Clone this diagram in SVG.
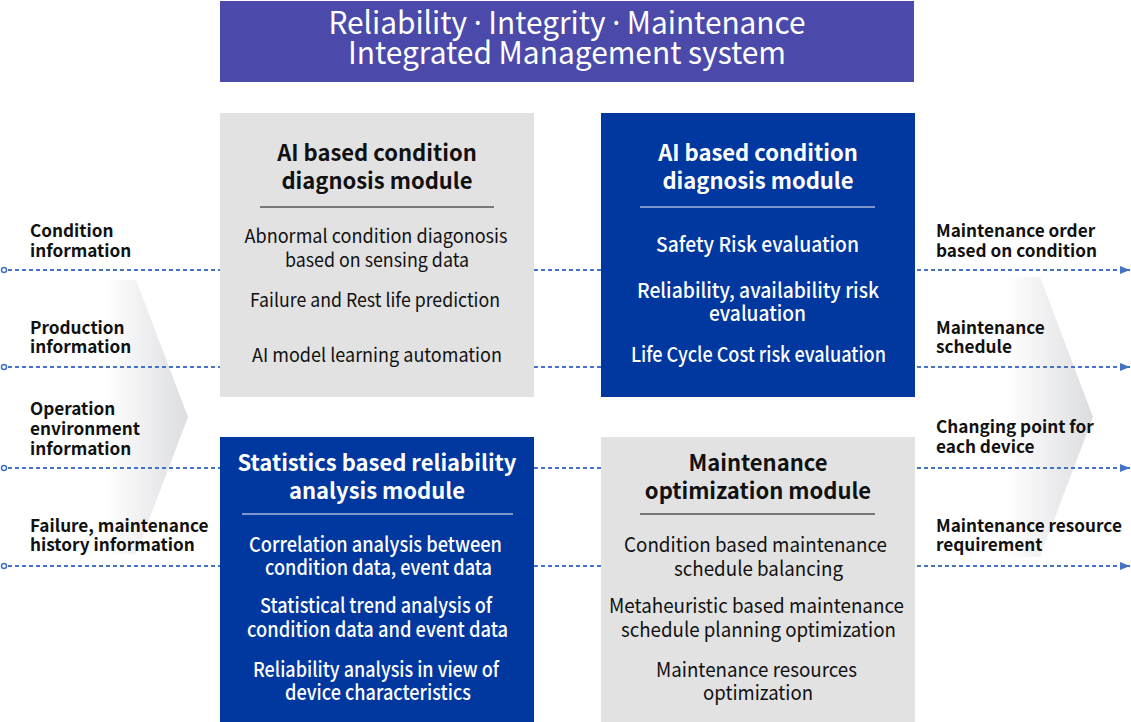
<svg xmlns="http://www.w3.org/2000/svg" width="1131" height="722" viewBox="0 0 1131 722">
<style>
  .f { font-family: "Noto Sans CJK KR", "Noto Sans", sans-serif; }
  .title { font-size: 31px; font-weight: 400; fill: #ffffff; text-anchor: middle; }
  .dotc { font-family: "Noto Sans", sans-serif; }
  .hd { font-size: 22px; font-weight: 700; text-anchor: middle; }
  .it { font-size: 19px; font-weight: 400; text-anchor: middle; }
  .it2 { font-size: 20.5px; font-weight: 400; text-anchor: middle; }
  .it2m { font-size: 20.5px; font-weight: 500; text-anchor: middle; }
  .lb { font-size: 17.2px; font-weight: 700; fill: #111111; }
  .dark { fill: #111111; }
  .light { fill: #ffffff; }
  .gbox { fill: #e2e2e2; }
  .bbox { fill: #0038a0; }
  .conn { stroke: #4472c4; stroke-width: 2; stroke-dasharray: 4 3; fill: none; }
  .dot { fill: #ffffff; stroke: #4472c4; stroke-width: 1.5; }
</style>
<defs>
  <linearGradient id="chevL" gradientUnits="userSpaceOnUse" x1="105" y1="0" x2="188" y2="0">
    <stop offset="0" stop-color="#dcdde0" stop-opacity="0"/>
    <stop offset="1" stop-color="#dcdde0" stop-opacity="1"/>
  </linearGradient>
  <linearGradient id="chevR" gradientUnits="userSpaceOnUse" x1="1005" y1="0" x2="1093" y2="0">
    <stop offset="0" stop-color="#dcdde0" stop-opacity="0"/>
    <stop offset="1" stop-color="#dcdde0" stop-opacity="1"/>
  </linearGradient>
  <marker id="arr" markerWidth="10" markerHeight="8" refX="10" refY="4" orient="auto" markerUnits="userSpaceOnUse">
    <path d="M0,0 L10,4 L0,8 Z" fill="#4472c4"/>
  </marker>
</defs>
<rect width="1131" height="722" fill="#ffffff"/>

<g id="chevrons">
  <polygon points="90,280 136,280 188,417 136,554 90,554" fill="url(#chevL)"/>
  <polygon points="990,277 1040,277 1093,417 1040,557 990,557" fill="url(#chevR)"/>
</g>

<g id="connectors">
  <circle class="dot" cx="4" cy="270" r="2.5"/>
  <circle class="dot" cx="4" cy="367" r="2.5"/>
  <circle class="dot" cx="4" cy="468" r="2.5"/>
  <circle class="dot" cx="4" cy="566" r="2.5"/>
  <line class="conn" x1="8" y1="270" x2="220" y2="270"/>
  <line class="conn" x1="8" y1="367" x2="220" y2="367"/>
  <line class="conn" x1="8" y1="468" x2="220" y2="468"/>
  <line class="conn" x1="8" y1="566" x2="220" y2="566"/>
  <line class="conn" x1="534" y1="270" x2="601" y2="270"/>
  <line class="conn" x1="534" y1="367" x2="601" y2="367"/>
  <line class="conn" x1="534" y1="468" x2="601" y2="468"/>
  <line class="conn" x1="534" y1="566" x2="601" y2="566"/>
  <line class="conn" x1="917" y1="270" x2="1130" y2="270" marker-end="url(#arr)"/>
  <line class="conn" x1="917" y1="367" x2="1130" y2="367" marker-end="url(#arr)"/>
  <line class="conn" x1="917" y1="468" x2="1130" y2="468" marker-end="url(#arr)"/>
  <line class="conn" x1="917" y1="566" x2="1130" y2="566" marker-end="url(#arr)"/>
</g>

<g id="title">
  <rect x="220" y="1" width="694" height="81" fill="#4b4aab"/>
  <text class="f title" x="567" y="34" textLength="477" lengthAdjust="spacingAndGlyphs">Reliability <tspan class="dotc">·</tspan> Integrity <tspan class="dotc">·</tspan> Maintenance</text>
  <text class="f title" x="567" y="64" textLength="438" lengthAdjust="spacingAndGlyphs">Integrated Management system</text>
</g>

<g id="inputs" class="f lb">
  <text x="30" y="237">Condition</text>
  <text x="30" y="257">information</text>
  <text x="30" y="334">Production</text>
  <text x="30" y="353">information</text>
  <text x="30" y="415">Operation</text>
  <text x="30" y="435">environment</text>
  <text x="30" y="455">information</text>
  <text x="30" y="532">Failure, maintenance</text>
  <text x="30" y="551">history information</text>
</g>

<g id="outputs" class="f lb">
  <text x="936" y="237">Maintenance order</text>
  <text x="936" y="257">based on condition</text>
  <text x="936" y="334">Maintenance</text>
  <text x="936" y="353">schedule</text>
  <text x="936" y="433">Changing point for</text>
  <text x="936" y="453">each device</text>
  <text x="936" y="532">Maintenance resource</text>
  <text x="936" y="551">requirement</text>
</g>

<g id="module-ai-diagnosis">
  <rect class="gbox" x="220" y="113" width="314" height="284"/>
  <text class="f hd dark" x="377" y="161">AI based condition</text>
  <text class="f hd dark" x="377" y="189">diagnosis module</text>
  <line x1="260" y1="207" x2="494" y2="207" stroke="#555555" stroke-width="1.5"/>
  <text class="f it dark" x="376" y="243" textLength="263" lengthAdjust="spacingAndGlyphs">Abnormal condition diagonosis</text>
  <text class="f it dark" x="377" y="267" textLength="184" lengthAdjust="spacingAndGlyphs">based on sensing data</text>
  <text class="f it dark" x="375" y="307" textLength="250" lengthAdjust="spacingAndGlyphs">Failure and Rest life prediction</text>
  <text class="f it dark" x="377" y="362" textLength="250" lengthAdjust="spacingAndGlyphs">AI model learning automation</text>
</g>

<g id="module-ai-risk">
  <rect class="bbox" x="601" y="113" width="314" height="284"/>
  <text class="f hd light" x="758" y="161">AI based condition</text>
  <text class="f hd light" x="758" y="189">diagnosis module</text>
  <line x1="640" y1="207" x2="875" y2="207" stroke="#a8b6dc" stroke-width="1.5"/>
  <text class="f it2m light" x="757.5" y="252" textLength="203" lengthAdjust="spacingAndGlyphs">Safety Risk evaluation</text>
  <text class="f it2m light" x="758" y="298" textLength="242" lengthAdjust="spacingAndGlyphs">Reliability, availability risk</text>
  <text class="f it2m light" x="757.5" y="321" textLength="97" lengthAdjust="spacingAndGlyphs">evaluation</text>
  <text class="f it2m light" x="758.5" y="362" textLength="255" lengthAdjust="spacingAndGlyphs">Life Cycle Cost risk evaluation</text>
</g>

<g id="module-statistics">
  <rect class="bbox" x="220" y="437" width="314" height="285"/>
  <text class="f hd light" x="377" y="471">Statistics based reliability</text>
  <text class="f hd light" x="377" y="499">analysis module</text>
  <line x1="242" y1="514" x2="513" y2="514" stroke="#a8b6dc" stroke-width="1.5"/>
  <text class="f it2m light" x="375.5" y="552" textLength="253" lengthAdjust="spacingAndGlyphs">Correlation analysis between</text>
  <text class="f it2m light" x="378.5" y="575" textLength="227" lengthAdjust="spacingAndGlyphs">condition data, event data</text>
  <text class="f it2m light" x="376" y="613" textLength="232" lengthAdjust="spacingAndGlyphs">Statistical trend analysis of</text>
  <text class="f it2m light" x="377.5" y="637" textLength="261" lengthAdjust="spacingAndGlyphs">condition data and event data</text>
  <text class="f it2m light" x="376" y="677" textLength="246" lengthAdjust="spacingAndGlyphs">Reliability analysis in view of</text>
  <text class="f it2m light" x="378" y="700" textLength="186" lengthAdjust="spacingAndGlyphs">device characteristics</text>
</g>

<g id="module-optimization">
  <rect class="gbox" x="601" y="437" width="314" height="285"/>
  <text class="f hd dark" x="758" y="471">Maintenance</text>
  <text class="f hd dark" x="758" y="499">optimization module</text>
  <line x1="640" y1="514" x2="875" y2="514" stroke="#555555" stroke-width="1.5"/>
  <text class="f it2 dark" x="755.5" y="552" textLength="263" lengthAdjust="spacingAndGlyphs">Condition based maintenance</text>
  <text class="f it2 dark" x="758.5" y="576" textLength="169" lengthAdjust="spacingAndGlyphs">schedule balancing</text>
  <text class="f it2 dark" x="756.5" y="613" textLength="295" lengthAdjust="spacingAndGlyphs">Metaheuristic based maintenance</text>
  <text class="f it2 dark" x="758.5" y="637" textLength="275" lengthAdjust="spacingAndGlyphs">schedule planning optimization</text>
  <text class="f it2 dark" x="756.5" y="677" textLength="201" lengthAdjust="spacingAndGlyphs">Maintenance resources</text>
  <text class="f it2 dark" x="758" y="700" textLength="110" lengthAdjust="spacingAndGlyphs">optimization</text>
</g>
</svg>
